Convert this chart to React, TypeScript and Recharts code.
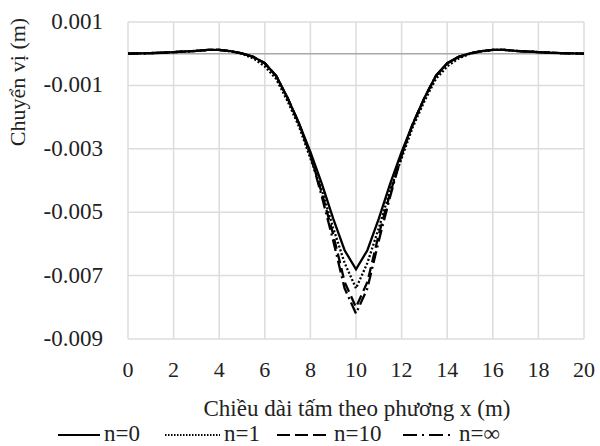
import { LineChart, Line, XAxis, YAxis, CartesianGrid, ReferenceLine, Legend } from 'recharts';

const xs = [
  0, 0.5, 1, 1.5, 2, 2.5, 3, 3.5, 4, 4.5, 5, 5.5, 6, 6.5, 7, 7.5, 8, 8.5, 9, 9.5,
  10, 10.5, 11, 11.5, 12, 12.5, 13, 13.5, 14, 14.5, 15, 15.5, 16, 16.5, 17, 17.5, 18, 18.5, 19, 19.5, 20,
];

const n0 = [
  0, 0.00001, 0.00002, 0.00003, 0.00005, 0.00007, 0.00009, 0.00012, 0.00012, 0.00008, 0.00001,
  -0.0001, -0.0003, -0.0007, -0.0014, -0.0022, -0.0031, -0.0041, -0.0052, -0.0062,
  -0.0068,
  -0.0062, -0.0052, -0.0041, -0.0031, -0.0022, -0.0014, -0.0007, -0.0003, -0.0001,
  0.00001, 0.00008, 0.00012, 0.00012, 0.00009, 0.00007, 0.00005, 0.00003, 0.00002, 0.00001, 0,
];

const n1 = [
  0, 0.00001, 0.00002, 0.00003, 0.00005, 0.00007, 0.00009, 0.00012, 0.00012, 0.00007, 0,
  -0.00015, -0.0004, -0.0008, -0.0015, -0.0023, -0.0033, -0.0043, -0.0055, -0.0066,
  -0.0074,
  -0.0066, -0.0055, -0.0043, -0.0033, -0.0023, -0.0015, -0.0008, -0.0004, -0.00015,
  0, 0.00007, 0.00012, 0.00012, 0.00009, 0.00007, 0.00005, 0.00003, 0.00002, 0.00001, 0,
];

const n10 = [
  0, 0.00001, 0.00002, 0.00003, 0.00005, 0.00007, 0.00009, 0.00012, 0.00012, 0.00008, 0.00001,
  -0.0001, -0.0003, -0.0007, -0.0014, -0.0022, -0.0032, -0.0044, -0.0057, -0.0072,
  -0.008,
  -0.0072, -0.0057, -0.0044, -0.0032, -0.0022, -0.0014, -0.0007, -0.0003, -0.0001,
  0.00001, 0.00008, 0.00012, 0.00012, 0.00009, 0.00007, 0.00005, 0.00003, 0.00002, 0.00001, 0,
];

const nInf = [
  0, 0.00001, 0.00002, 0.00003, 0.00005, 0.00007, 0.00009, 0.00012, 0.00012, 0.00008, 0.00001,
  -0.0001, -0.0003, -0.0007, -0.0014, -0.0022, -0.0032, -0.0045, -0.0059, -0.0074,
  -0.0082,
  -0.0074, -0.0059, -0.0045, -0.0032, -0.0022, -0.0014, -0.0007, -0.0003, -0.0001,
  0.00001, 0.00008, 0.00012, 0.00012, 0.00009, 0.00007, 0.00005, 0.00003, 0.00002, 0.00001, 0,
];

const xTicks = [0, 2, 4, 6, 8, 10, 12, 14, 16, 18, 20];
const yTicks = [0.001, -0.001, -0.003, -0.005, -0.007, -0.009];

const series = [
  { key: 'n0', name: 'n=0', values: n0, dash: undefined, legendDash: undefined },
  { key: 'n1', name: 'n=1', values: n1, dash: '2 2', legendDash: '1.5 1.5' },
  { key: 'n10', name: 'n=10', values: n10, dash: '10 5', legendDash: '13 5' },
  { key: 'nInf', name: 'n=∞', values: nInf, dash: '12 4 2 4', legendDash: '14 5 2 5' },
];

const data = xs.map((x, i) => {
  const row: Record<string, number> = { x };
  series.forEach((s) => { row[s.key] = s.values[i]; });
  return row;
});

const SERIF = 'Liberation Serif';
const TEXT = '#222';

// legend sample positions (line start, line length)
const legendSlots = [
  { left: 58, len: 42 },
  { left: 165, len: 55 },
  { left: 277, len: 53 },
  { left: 403, len: 52 },
];

function XTick({ x, y, payload }: any) {
  return (
    <text x={x} y={y} dy={16} textAnchor="middle" fontFamily={SERIF} fontSize={22} fill={TEXT}>
      {payload.value}
    </text>
  );
}

function YTick({ x, y, payload }: any) {
  return (
    <text x={x} y={y} dy={7} textAnchor="end" fontFamily={SERIF} fontSize={23} fill={TEXT}>
      {Number(payload.value).toFixed(3)}
    </text>
  );
}

function ChartLegend() {
  return (
    <svg width={600} height={32} style={{ display: 'block' }}>
      {series.map((s, i) => {
        const slot = legendSlots[i];
        return (
          <g key={s.key}>
            <line x1={slot.left} y1={21} x2={slot.left + slot.len} y2={21} stroke="#000" strokeWidth={2} strokeDasharray={s.legendDash} />
            <text x={slot.left + slot.len + 4} y={27} fontFamily={SERIF} fontSize={23} fill={TEXT}>{s.name}</text>
          </g>
        );
      })}
    </svg>
  );
}

export default function App() {
  return (
    <div style={{ position: 'absolute', left: 0, top: 0, width: 600, height: 446, background: '#fff' }}>
      <LineChart width={600} height={446} data={data} margin={{ top: 22, right: 16, left: 0, bottom: 0 }}>
        <CartesianGrid stroke="#dcdcdc" strokeWidth={1.5} />
        <XAxis
          dataKey="x"
          type="number"
          domain={[0, 20]}
          ticks={xTicks}
          axisLine={false}
          tickLine={false}
          tickSize={0}
          tickMargin={22}
          height={75}
          tick={<XTick />}
          label={{
            content: () => (
              <text x={357} y={416} textAnchor="middle" fontFamily={SERIF} fontSize={23} fill={TEXT}>
                Chiều dài tấm theo phương x (m)
              </text>
            ),
          }}
        />
        <YAxis
          type="number"
          domain={[-0.009, 0.001]}
          ticks={yTicks}
          width={128}
          axisLine={false}
          tickLine={false}
          tickSize={0}
          tickMargin={25}
          tick={<YTick />}
          label={{
            content: () => (
              <text x={25} y={82} transform="rotate(-90 25 82)" textAnchor="middle" fontFamily={SERIF} fontSize={22} fill={TEXT}>
                Chuyển vị (m)
              </text>
            ),
          }}
        />
        <ReferenceLine y={0} stroke="#a8a8a8" strokeWidth={1.5} />
        {series.map((s) => (
          <Line
            key={s.key}
            type="linear"
            dataKey={s.key}
            name={s.name}
            stroke="#000"
            strokeWidth={2.3}
            strokeDasharray={s.dash}
            dot={false}
            isAnimationActive={false}
          />
        ))}
        <Legend verticalAlign="bottom" height={32} content={<ChartLegend />} />
      </LineChart>
    </div>
  );
}
